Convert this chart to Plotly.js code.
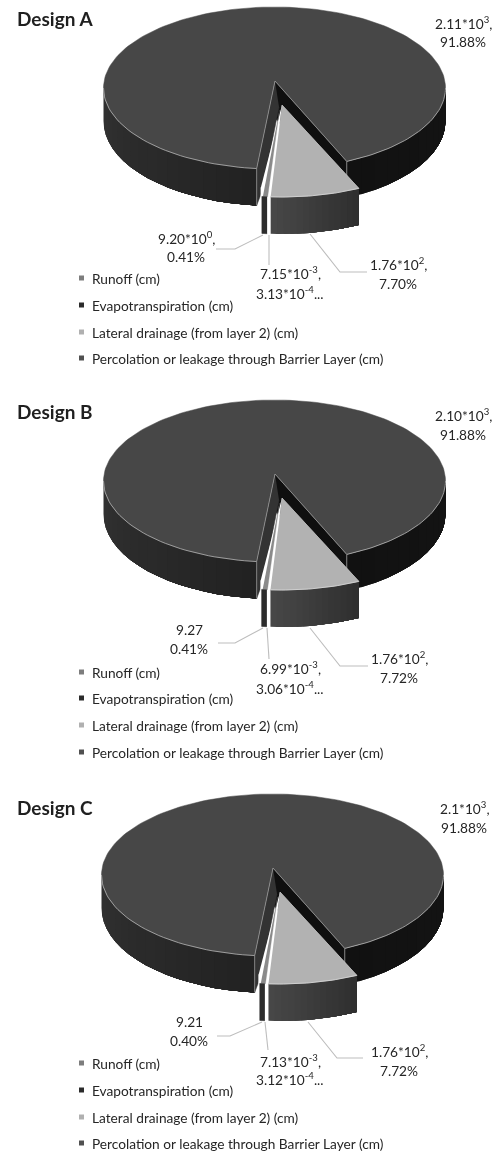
<!DOCTYPE html>
<html>
<head>
<meta charset="utf-8">
<script src="https://cdn.plot.ly/plotly-3.0.1.min.js"></script>
<style>html,body{margin:0;padding:0;background:#fff}#chart{width:499px;height:1153px;filter:blur(0.35px)}</style>
</head>
<body>
<div id="chart"></div>
<script>
// ---- data ----
var designs = ['Design A', 'Design B', 'Design C'];
var categories = ['Runoff (cm)', 'Evapotranspiration (cm)', 'Lateral drainage (from layer 2) (cm)', 'Percolation or leakage through Barrier Layer (cm)'];
var legendColors = ['#7d7d7d', '#2b2b2b', '#b0b0b0', '#505050'];
var runoffPct = [0.41, 0.41, 0.40];
var evapoPct = [91.88, 91.88, 91.88];
var lateralPct = [7.70, 7.72, 7.72];
var percolationPct = [0.000313, 0.000306, 0.000312];
var evapoLabels = ['2.11*10<sup>3</sup>,', '2.10*10<sup>3</sup>,', '2.1*10<sup>3</sup>,'];
var evapoPctLabels = ['91.88%', '91.88%', '91.88%'];
var runoffLabels = ['9.20*10<sup>0</sup>,', '9.27', '9.21'];
var runoffPctLabels = ['0.41%', '0.41%', '0.40%'];
var lateralLabels = ['1.76*10<sup>2</sup>,', '1.76*10<sup>2</sup>,', '1.76*10<sup>2</sup>,'];
var lateralPctLabels = ['7.70%', '7.72%', '7.72%'];
var percLabels = ['7.15*10<sup>-3</sup>,', '6.99*10<sup>-3</sup>,', '7.13*10<sup>-3</sup>,'];
var percPctLabels = ['3.13*10<sup>-4</sup>...', '3.06*10<sup>-4</sup>...', '3.12*10<sup>-4</sup>...'];

// ---- layout of each panel ----
var panelDx = [0, 0, -2];
var panelDy = [0, 393, 787];
var titleY = [18, 411.5, 807];
var legendY = [[278, 305, 332, 358], [672, 698, 725, 752], [1063, 1090, 1117, 1143]];
var evapoLabelPos = [[463, 23, 41], [463, 415, 434], [464, 808, 827]];
var runoffLabelPos = [[186, 238, 256], [189, 629, 648], [189, 1021, 1040]];
var lateralLabelPos = [[398, 264, 283], [399, 658, 677], [399, 1051, 1070]];
var percLabelPos = [[290, 273, 293], [290, 668, 688], [290, 1061, 1079]];
var leaderRunoff = [[[216,249],[235,249],[263,235]], [[218,643],[235,643],[263,628]], [[217,1036],[230,1036],[262,1022]]];
var leaderPerc = [[[269,235],[269,265]], [[267,628],[269,659]], [[265,1022],[268,1050]]];
var leaderLateral = [[[310,234],[340,272],[367,272]], [[310,628],[340,666],[368,666]], [[308,1022],[337,1058],[363,1058]]];

var FONT = 'Lato, "Open Sans", sans-serif';
var TEXT = '#262626';
var RX = 171, RY = 81, FRONT_SCALE = 1.06, LAT_SCALE = 1.1;
var rad = Math.PI / 180;
var traces = [], annotations = [], shapes = [];

function hex(v){ v = Math.round(v); return 'rgb(' + v + ',' + v + ',' + v + ')'; }
function poly(pts, fill, lineColor, lineW){
  traces.push({
    type: 'scatter', mode: 'lines', hoverinfo: 'skip', showlegend: false,
    x: pts.map(function(p){return p[0];}), y: pts.map(function(p){return p[1];}),
    fill: 'toself', fillcolor: fill,
    line: {color: lineColor || fill, width: lineW === undefined ? 0.5 : lineW}
  });
}
function line(pts, color, w){
  traces.push({
    type: 'scatter', mode: 'lines', hoverinfo: 'skip', showlegend: false,
    x: pts.map(function(p){return p[0];}), y: pts.map(function(p){return p[1];}),
    line: {color: color, width: w}
  });
}
function arcPt(c, f){ return [c[0] + RX * Math.sin(f * rad), c[1] + RY * Math.cos(f * rad)]; }
function arc(c, f0, f1, n){
  var out = [];
  for (var i = 0; i <= n; i++) out.push(arcPt(c, f0 + (f1 - f0) * i / n));
  return out;
}
function wallH(f){ return 33 + 4 * Math.cos(f * rad); }
// the band is painted from its far end back to f0, each piece reaching the far end,
// so no seams are left between neighbouring shades
function wallBand(c, f0, f1, n, shade){
  for (var i = 0; i < n; i++) {
    var a = f0 + (f1 - f0) * i / n, b = f1;
    var m = Math.max(4, n - i);
    var top = arc(c, a, b, m);
    var bot = top.map(function(p, k){ var f = a + (b - a) * k / m; return [p[0], p[1] + wallH(f)]; }).reverse();
    poly(top.concat(bot), hex(shade((i + 0.5) / n)), hex(shade((i + 0.5) / n)), 0);
  }
}
function label(x, y, txt){
  annotations.push({x: x, y: y, xref: 'x', yref: 'y', text: txt, showarrow: false,
    xanchor: 'center', yanchor: 'middle', font: {family: FONT, size: 13.7, color: TEXT}});
}

designs.forEach(function(name, d){
  var dx = panelDx[d], dy = panelDy[d];
  var c = [274.5 + dx, 88 + dy];
  var apex = [275 + dx, 81 + dy];
  var f0 = 25;
  var f1 = f0 - (100 - evapoPct[d]) * 3.6 * FRONT_SCALE;

  // outer walls of the big slice
  wallBand(c, -90, f1, 18, function(t){ return 50 - 16 * t; });
  wallBand(c, f0, 90, 12, function(t){ return 17 + 3 * t; });

  var cR = arcPt(c, f0), cL = arcPt(c, f1);
  var apexLow = [apex[0], apex[1] + 37];
  // inner right wall
  poly([apex, cR, [cR[0], cR[1] + wallH(f0)], apexLow], '#0f0f0f');
  // inner left wall
  poly([apex, cL, [cL[0], cL[1] + wallH(f1)], [cL[0] + 6, cL[1] + 21], [apex[0] + 4, apex[1] + 26]], '#333333');

  // big slice top
  var topPts = [apex].concat(arc(c, f0, f1 + 360, 180));
  poly(topPts, '#474747');
  // rim highlight
  line(arc(c, -90, f1, 40), '#b5b5b5', 0.8);
  line(arc(c, f0, 90, 40), '#b5b5b5', 0.8);
  line([apex, cL, [cL[0], cL[1] + wallH(f1)]], '#9a9a9a', 0.8);
  line([apex, cR, [cR[0], cR[1] + wallH(f0)]], '#9a9a9a', 0.8);

  // exploded pieces
  var cLat = [c[0] + 7.5, c[1] + 28];
  var apexLat = [cLat[0], cLat[1] - 11];
  var latF0 = 26.7;
  var latF1 = latF0 - lateralPct[d] * 3.6 * LAT_SCALE;

  // gap + percolation sliver
  var gapF0 = latF1, gapF1 = latF1 - 2.7;
  poly([apexLat, [arcPt(cLat, gapF0)[0], arcPt(cLat, gapF0)[1]], [arcPt(cLat, gapF1 - 0.6)[0], arcPt(cLat, gapF1)[1]], [arcPt(cLat, gapF1 - 0.6)[0], arcPt(cLat, gapF1)[1] - 9]], '#ffffff');

  // runoff sliver
  var rF0 = latF1 - 1.0 - percolationPct[d] * 3.6;
  var rF1 = rF0 - runoffPct[d] * 3.6 * LAT_SCALE;
  poly([[apexLat[0] - 2.5, apexLat[1] + 5], arcPt(cLat, rF0), arcPt(cLat, rF1)], '#8a8a8a', '#8a8a8a', 0.3);
  var rW0 = latF1 - 1.2, rW1 = rW0 - runoffPct[d] * 3.6 * 1.2;
  var wA = arcPt(cLat, rW0), wB = arcPt(cLat, rW1);
  poly([wA, wB, [wB[0], wB[1] + 37], [wA[0], wA[1] + 37]], '#2c2c2c');

  // lateral wall, top
  wallBand([cLat[0], cLat[1]], latF1, latF0, 14, function(t){ return 72 - 26 * t; });
  var latTop = [apexLat].concat(arc(cLat, latF0, latF1, 24));
  poly(latTop, '#b2b2b2');
  line(arc(cLat, latF0, latF1, 24), '#d5d5d5', 0.9);
  line([apexLat, arcPt(cLat, latF0)], '#cfcfcf', 0.6);

  // labels and leaders
  label(evapoLabelPos[d][0], evapoLabelPos[d][1], evapoLabels[d]);
  label(evapoLabelPos[d][0], evapoLabelPos[d][2], evapoPctLabels[d]);
  label(runoffLabelPos[d][0], runoffLabelPos[d][1], runoffLabels[d]);
  label(runoffLabelPos[d][0], runoffLabelPos[d][2], runoffPctLabels[d]);
  label(lateralLabelPos[d][0], lateralLabelPos[d][1], lateralLabels[d]);
  label(lateralLabelPos[d][0], lateralLabelPos[d][2], lateralPctLabels[d]);
  label(percLabelPos[d][0], percLabelPos[d][1], percLabels[d]);
  label(percLabelPos[d][0], percLabelPos[d][2], percPctLabels[d]);
  line(leaderRunoff[d], '#bdbdbd', 1.1);
  line(leaderPerc[d], '#bdbdbd', 1.1);
  line(leaderLateral[d], '#bdbdbd', 1.1);

  // title
  annotations.push({x: 15, y: titleY[d], xref: 'x', yref: 'y', text: '<b>' + name + '</b>', showarrow: false,
    xanchor: 'left', yanchor: 'middle', font: {family: FONT, size: 19, color: '#1f1f1f'}});

  // legend
  traces.push({
    type: 'scatter', mode: 'markers', hoverinfo: 'skip', showlegend: false,
    x: categories.map(function(){ return 81.5; }), y: legendY[d],
    marker: {symbol: 'square', size: 5, color: legendColors, line: {width: 0}}
  });
  categories.forEach(function(cat, i){
    annotations.push({x: 90, y: legendY[d][i], xref: 'x', yref: 'y', text: cat, showarrow: false,
      xanchor: 'left', yanchor: 'middle', font: {family: FONT, size: 13.7, color: TEXT}});
  });
});

Plotly.newPlot('chart', traces, {
  width: 499, height: 1153, autosize: false,
  margin: {l: 0, r: 0, t: 0, b: 0},
  paper_bgcolor: '#ffffff', plot_bgcolor: '#ffffff',
  showlegend: false, hovermode: false,
  xaxis: {range: [0, 499], visible: false, fixedrange: true},
  yaxis: {range: [1153, 0], visible: false, fixedrange: true},
  annotations: annotations, shapes: shapes
}, {displayModeBar: false, staticPlot: true});
</script>
</body>
</html>
